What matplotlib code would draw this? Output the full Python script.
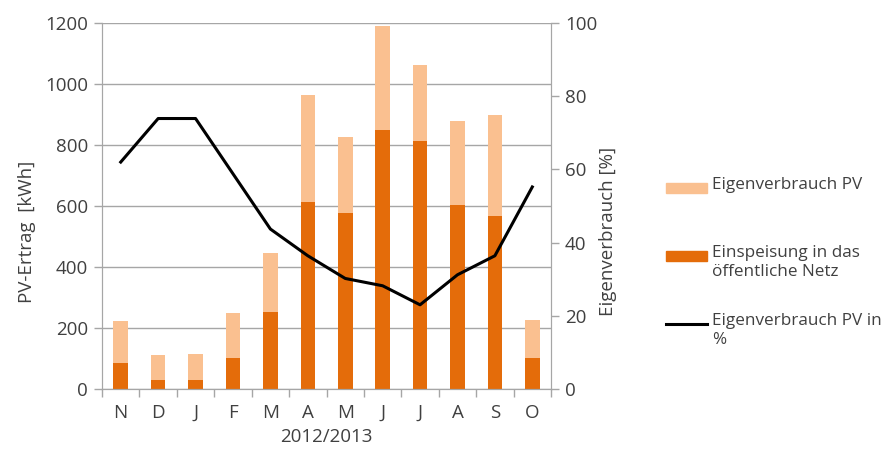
import numpy as np
import matplotlib.pyplot as plt
from matplotlib.patches import Rectangle
from matplotlib.lines import Line2D

plt.rcParams['font.family'] = ['Open Sans', 'DejaVu Sans']

# Monatswerte Nov 2012 - Okt 2013
monate = ['N', 'D', 'J', 'F', 'M', 'A', 'M', 'J', 'J', 'A', 'S', 'O']
einspeisung = [86, 31, 31, 103, 252, 612, 576, 850, 814, 602, 568, 103]
pv_gesamt = [224, 113, 116, 248, 447, 965, 827, 1191, 1061, 880, 899, 227]
eigenverbrauch_pv = [g - e for g, e in zip(pv_gesamt, einspeisung)]
eigenverbrauch_proz = [62.0, 73.9, 73.9, 58.8, 43.7, 36.4, 30.2, 28.2, 23.0, 31.2, 36.4, 55.2]

dunkel = '#E46C0A'
hell = '#FAC090'
grau = '#A6A6A6'
textfarbe = '#404040'

W, H = 888, 450
fig = plt.figure(figsize=(W / 100, H / 100), dpi=100)
ax = fig.add_axes([0.1149, 0.1356, 0.5056, 0.8133])

x = np.arange(len(monate))
ax.bar(x, einspeisung, width=0.39, color=dunkel, zorder=2)
ax.bar(x, eigenverbrauch_pv, width=0.39, bottom=einspeisung, color=hell, zorder=2)

ax.set_xlim(-0.5, 11.5)
ax.set_ylim(0, 1200)
ax.set_yticks(np.arange(0, 1201, 200))
ax.yaxis.grid(True, color=grau, lw=1, zorder=0)
ax.set_axisbelow(True)

ax.set_xticks(x)
ax.set_xticklabels(monate)
ax.set_xticks(np.arange(-0.5, 12, 1), minor=True)
ax.tick_params(axis='x', which='major', length=0, pad=11, labelsize=13.5, labelcolor=textfarbe)
ax.tick_params(axis='x', which='minor', length=6, color=grau, width=1)
ax.tick_params(axis='y', length=6, color=grau, width=1, labelsize=13.5, labelcolor=textfarbe, pad=4)

for s in ['left', 'bottom', 'right']:
    ax.spines[s].set_color(grau)
ax.spines['top'].set_visible(False)

ax.set_ylabel('PV-Ertrag  [kWh]', fontsize=13.5, color=textfarbe)
ax.yaxis.set_label_coords(-0.147, 0.43)
ax.set_xlabel('2012/2013', fontsize=13.5, color=textfarbe, labelpad=4)

ax2 = ax.twinx()
ax2.plot(x, eigenverbrauch_proz, color='black', lw=2.2, zorder=3)
ax2.set_ylim(0, 100)
ax2.set_yticks(np.arange(0, 101, 20))
ax2.tick_params(axis='y', length=6, color=grau, width=1, labelsize=13.5, labelcolor=textfarbe, pad=4)
for s in ['left', 'bottom', 'right']:
    ax2.spines[s].set_color(grau)
ax2.spines['top'].set_visible(False)
ax2.set_ylabel('Eigenverbrauch [%]', fontsize=13.5, color=textfarbe)
ax2.yaxis.set_label_coords(1.106, 0.43)

# Legende von Hand, Symbol auf Hoehe der ersten Textzeile
eintraege = [('patch', hell, 'Eigenverbrauch PV', 188),
             ('patch', dunkel, 'Einspeisung in das\nöffentliche Netz', 256),
             ('line', 'black', 'Eigenverbrauch PV in\n%', 324)]
for art, farbe, text, ypx in eintraege:
    yf = 1 - ypx / H
    if art == 'patch':
        fig.add_artist(Rectangle((666 / W, yf - 5 / H), 41 / W, 10 / H,
                                 transform=fig.transFigure, color=farbe))
    else:
        fig.add_artist(Line2D([666 / W, 707 / W], [yf, yf], transform=fig.transFigure,
                              color=farbe, lw=2.2))
    fig.text(712 / W, yf + 11 / H, text, fontsize=12.3, color=textfarbe,
             va='top', ha='left', linespacing=1.25)

fig.savefig('out.png', dpi=100)
